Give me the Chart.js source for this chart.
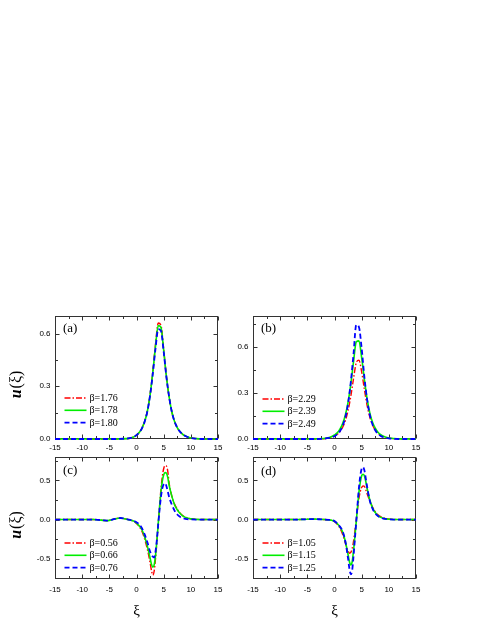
<!DOCTYPE html>
<html>
<head>
<meta charset="utf-8">
<script src="https://cdn.jsdelivr.net/npm/chart.js@4.4.0/dist/chart.umd.min.js"></script>
<style>
  body { margin: 0; background: #fff; }
  #wrap { position: relative; width: 491px; height: 635px; }
  canvas { position: absolute; }
</style>
</head>
<body>
<div id="wrap">
  <canvas id="chart-a" width="232" height="170" style="left:0;top:295px"></canvas>
  <canvas id="chart-b" width="259" height="170" style="left:232px;top:295px"></canvas>
  <canvas id="chart-c" width="232" height="195" style="left:0;top:440px"></canvas>
  <canvas id="chart-d" width="259" height="195" style="left:232px;top:440px"></canvas>
</div>
<script>
// x grids
const xsAB = [-15, -12, -9, -6, -4, -2, -1, -0.5, 0, 0.5, 1, 1.5, 2, 2.5, 3, 3.5, 4, 4.5, 5, 5.5, 6, 6.5, 7, 7.5, 8, 8.5, 9, 10, 11, 12, 15];
const xsCD = [-15, -12, -10, -8, -7, -6, -5.5, -5, -4, -3, -2, -1, -0.5, 0, 0.5, 1, 1.5, 2, 2.5, 2.75, 3, 3.25, 3.5, 3.75, 4, 4.25, 4.5, 4.75, 5, 5.25, 5.5, 5.75, 6, 6.5, 7, 7.5, 8, 8.5, 9, 10, 11, 12, 13, 15];

// (a)
const labelsA = ['β=1.76', 'β=1.78', 'β=1.80'];
const uA176 = [0, 0, 0, 0, 0, 0.002, 0.006, 0.012, 0.022, 0.037, 0.062, 0.100, 0.160, 0.253, 0.384, 0.540, 0.660, 0.648, 0.512, 0.358, 0.240, 0.155, 0.100, 0.065, 0.042, 0.027, 0.017, 0.006, 0.002, 0, 0];
const uA178 = [0, 0, 0, 0, 0, 0.002, 0.006, 0.012, 0.022, 0.037, 0.061, 0.099, 0.158, 0.250, 0.378, 0.528, 0.645, 0.635, 0.505, 0.356, 0.240, 0.155, 0.100, 0.065, 0.042, 0.027, 0.017, 0.006, 0.002, 0, 0];
const uA180 = [0, 0, 0, 0, 0, 0.002, 0.006, 0.012, 0.022, 0.037, 0.061, 0.099, 0.157, 0.248, 0.372, 0.515, 0.625, 0.615, 0.498, 0.354, 0.240, 0.155, 0.100, 0.065, 0.042, 0.027, 0.017, 0.006, 0.002, 0, 0];

// (b)
const labelsB = ['β=2.29', 'β=2.39', 'β=2.49'];
const uB229 = [0, 0, 0, 0, 0, 0.002, 0.008, 0.013, 0.020, 0.031, 0.049, 0.077, 0.120, 0.185, 0.278, 0.392, 0.495, 0.513, 0.437, 0.323, 0.219, 0.142, 0.092, 0.059, 0.037, 0.024, 0.015, 0.006, 0.002, 0, 0];
const uB239 = [0, 0, 0, 0, 0, 0.003, 0.010, 0.016, 0.026, 0.040, 0.064, 0.100, 0.156, 0.240, 0.358, 0.502, 0.632, 0.638, 0.529, 0.387, 0.261, 0.170, 0.109, 0.070, 0.044, 0.028, 0.018, 0.007, 0.003, 0.001, 0];
const uB249 = [0, 0, 0, 0, 0, 0.002, 0.007, 0.011, 0.018, 0.031, 0.051, 0.085, 0.141, 0.231, 0.370, 0.551, 0.742, 0.728, 0.589, 0.403, 0.256, 0.156, 0.094, 0.057, 0.034, 0.020, 0.012, 0.004, 0.001, 0, 0];

// (c)
const labelsC = ['β=0.56', 'β=0.66', 'β=0.76'];
const uC056 = [0, 0, 0, 0, -0.004, -0.011, -0.013, -0.010, 0.008, 0.020,
  0.008, -0.010, -0.020, -0.050, -0.090, -0.150, -0.250, -0.380, -0.550, -0.650,
  -0.710, -0.660, -0.500, -0.290, -0.050, 0.180, 0.390, 0.550, 0.650, 0.690,
  0.685, 0.620, 0.470, 0.300, 0.200, 0.135, 0.085, 0.050, 0.030, 0.010,
  0.003, 0, 0, 0];
const uC066 = [0, 0, 0, 0, -0.004, -0.011, -0.013, -0.010, 0.008, 0.020,
  0.008, -0.010, -0.020, -0.045, -0.080, -0.130, -0.220, -0.340, -0.490, -0.570,
  -0.610, -0.580, -0.460, -0.270, -0.050, 0.160, 0.350, 0.490, 0.570, 0.600,
  0.595, 0.540, 0.440, 0.300, 0.190, 0.125, 0.080, 0.047, 0.028, 0.009,
  0.003, 0, 0, 0];
const uC076 = [0, 0, 0, 0, -0.004, -0.011, -0.013, -0.010, 0.008, 0.020,
  0.008, -0.008, -0.015, -0.035, -0.060, -0.110, -0.190, -0.290, -0.410, -0.450,
  -0.475, -0.485, -0.410, -0.260, -0.060, 0.130, 0.290, 0.400, 0.450, 0.465,
  0.430, 0.360, 0.290, 0.190, 0.115, 0.065, 0.035, 0.018, 0.009, 0.002,
  0, 0, 0, 0];

// (d)
const labelsD = ['β=1.05', 'β=1.15', 'β=1.25'];
const uD105 = [0, 0, 0, 0, 0, 0.002, 0.003, 0.004, 0.005, 0.004,
  0.001, -0.005, -0.012, -0.028, -0.060, -0.110, -0.190, -0.300, -0.400, -0.430,
  -0.420, -0.370, -0.280, -0.150, -0.010, 0.140, 0.270, 0.360, 0.410, 0.430,
  0.425, 0.380, 0.330, 0.240, 0.160, 0.100, 0.062, 0.037, 0.022, 0.007,
  0.002, 0, 0, 0];
const uD115 = [0, 0, 0, 0, 0, 0.002, 0.003, 0.004, 0.005, 0.004,
  0.001, -0.004, -0.010, -0.022, -0.050, -0.095, -0.160, -0.280, -0.450, -0.540,
  -0.580, -0.540, -0.400, -0.220, -0.030, 0.170, 0.350, 0.480, 0.560, 0.580,
  0.560, 0.490, 0.400, 0.250, 0.150, 0.090, 0.050, 0.028, 0.015, 0.004,
  0.001, 0, 0, 0];
const uD125 = [0, 0, 0, 0, 0, 0.002, 0.003, 0.004, 0.005, 0.004,
  0.001, -0.003, -0.008, -0.020, -0.050, -0.090, -0.150, -0.280, -0.500, -0.630,
  -0.700, -0.650, -0.470, -0.250, -0.030, 0.200, 0.410, 0.560, 0.650, 0.670,
  0.630, 0.530, 0.420, 0.240, 0.140, 0.080, 0.045, 0.025, 0.013, 0.003,
  0, 0, 0, 0];

// ticks
const xTicks = [-15, -10, -5, 0, 5, 10, 15];
const xMinor = [-12.5, -7.5, -2.5, 2.5, 7.5, 12.5];
const yTicksAB = [0, 0.3, 0.6];
const yMinorAB = [0.15, 0.45, 0.75];
const yTicksCD = [-0.5, 0, 0.5];
const yMinorCD = [-0.75, -0.25, 0.25, 0.75];

const SANS = '"Liberation Sans", Arial, sans-serif';
const SERIF = '"Liberation Serif", "Times New Roman", serif';

const lineStyles = [
  { borderColor: '#ff0000', borderWidth: 1.4, borderDash: [6, 2, 1.5, 2], order: 2 },
  { borderColor: '#00ee00', borderWidth: 1.6, borderDash: [], order: 1 },
  { borderColor: '#0000ff', borderWidth: 1.8, borderDash: [5, 3], order: 0 },
];

const panelPlugin = {
  id: 'panel',
  beforeDatasetsDraw(chart, args, o) {
    const { ctx, chartArea: a, scales: { x, y } } = chart;
    const L = Math.round(a.left) + 0.5, R = Math.round(a.right) - 0.5;
    const T = Math.round(a.top) + 0.5, B = Math.round(a.bottom) - 0.5;
    ctx.save();
    ctx.strokeStyle = '#333';
    ctx.lineWidth = 1;
    ctx.strokeRect(L, T, R - L, B - T);
    ctx.beginPath();
    const xt = (vals, len) => vals.forEach(v => {
      const px = Math.round(x.getPixelForValue(v)) + 0.5;
      ctx.moveTo(px, B); ctx.lineTo(px, B - len);
      ctx.moveTo(px, T); ctx.lineTo(px, T + len);
    });
    const yt = (vals, len) => vals.forEach(v => {
      if (v < y.min || v > y.max) return;
      const py = Math.round(y.getPixelForValue(v)) + 0.5;
      ctx.moveTo(L, py); ctx.lineTo(L + len, py);
      ctx.moveTo(R, py); ctx.lineTo(R - len, py);
    });
    xt(xTicks, 4); xt(xMinor, 2.5);
    yt(o.yMajor, 4); yt(o.yMinor, 2.5);
    ctx.stroke();
    ctx.restore();
  },
  afterDatasetsDraw(chart, args, o) {
    const { ctx, chartArea: a } = chart;
    ctx.save();
    ctx.fillStyle = '#000';
    ctx.textBaseline = 'middle';
    // panel tag
    ctx.font = '13px ' + SERIF;
    ctx.fillText(o.tag, a.left + 8, a.top + o.tagTop);
    // legend inside plot
    ctx.font = '10px ' + SERIF;
    chart.data.datasets.forEach((ds, i) => {
      const yy = a.top + o.legendTop + i * 12.3;
      ctx.save();
      ctx.strokeStyle = ds.borderColor;
      ctx.lineWidth = ds.borderWidth;
      ctx.setLineDash(ds.borderDash);
      ctx.beginPath();
      ctx.moveTo(a.left + 9.5, yy);
      ctx.lineTo(a.left + 31.5, yy);
      ctx.stroke();
      ctx.restore();
      ctx.fillText(ds.label, a.left + 34.5, yy + 0.5);
    });
    // axis titles
    if (o.yTitle) {
      ctx.save();
      ctx.translate(16.5, (a.top + a.bottom) / 2 + 7.5);
      ctx.rotate(-Math.PI / 2);
      ctx.font = 'italic bold 16px ' + SERIF;
      const w1 = ctx.measureText('u').width;
      ctx.font = '16px ' + SERIF;
      const w2 = ctx.measureText('(ξ)').width;
      const x0 = -(w1 + w2) / 2;
      ctx.font = 'italic bold 16px ' + SERIF;
      ctx.fillText('u', x0, 0);
      ctx.font = '16px ' + SERIF;
      ctx.fillText('(ξ)', x0 + w1 + 1, 0);
      ctx.restore();
    }
    if (o.xTitle) {
      ctx.font = '15px ' + SERIF;
      ctx.textAlign = 'center';
      ctx.fillText('ξ', (a.left + a.right) / 2, a.bottom + 32);
    }
    ctx.restore();
  }
};

function panel(id, xs, series, labels, cfg) {
  new Chart(document.getElementById(id), {
    type: 'line',
    data: {
      datasets: series.map((ys, i) => ({
        label: labels[i],
        data: xs.map((x, j) => ({ x: x, y: ys[j] })),
        ...lineStyles[i],
        pointRadius: 0,
        cubicInterpolationMode: 'monotone',
        clip: false,
      }))
    },
    options: {
      responsive: false,
      animation: false,
      events: [],
      layout: { padding: cfg.pad },
      plugins: {
        legend: { display: false },
        tooltip: { enabled: false },
        panel: cfg.panel,
      },
      scales: {
        x: {
          type: 'linear', min: -15, max: 15,
          grid: { display: false, drawTicks: false },
          border: { display: false },
          afterBuildTicks: s => { s.ticks = xTicks.map(v => ({ value: v })); },
          afterFit: s => { s.height = cfg.xh; },
          ticks: { padding: cfg.xpad, maxRotation: 0, autoSkip: false, color: '#000',
                   font: { family: SANS, size: 8 }, callback: v => String(v) }
        },
        y: {
          type: 'linear', min: cfg.ymin, max: cfg.ymax,
          grid: { display: false, drawTicks: false },
          border: { display: false },
          afterBuildTicks: s => { s.ticks = cfg.panel.yMajor.map(v => ({ value: v })); },
          afterFit: s => { s.width = cfg.yw; },
          ticks: { padding: 4.5, color: '#000', font: { family: SANS, size: 8 },
                   callback: v => v.toFixed(1) }
        }
      }
    },
    plugins: [panelPlugin]
  });
}

panel('chart-a', xsAB, [uA176, uA178, uA180], labelsA, {
  pad: { left: 0, right: 14, top: 21, bottom: 0 }, xh: 26, yw: 55, xpad: 4,
  ymin: 0, ymax: 0.7,
  panel: { tag: '(a)', tagTop: 13, legendTop: 82, yMajor: yTicksAB, yMinor: yMinorAB, yTitle: true, xTitle: false }
});
panel('chart-b', xsAB, [uB229, uB239, uB249], labelsB, {
  pad: { left: 0, right: 75, top: 21, bottom: 0 }, xh: 26, yw: 21, xpad: 4,
  ymin: 0, ymax: 0.8,
  panel: { tag: '(b)', tagTop: 13, legendTop: 83, yMajor: yTicksAB, yMinor: yMinorAB, yTitle: false, xTitle: false }
});
panel('chart-c', xsCD, [uC056, uC066, uC076], labelsC, {
  pad: { left: 0, right: 14, top: 17, bottom: 0 }, xh: 56, yw: 55, xpad: 6,
  ymin: -0.76, ymax: 0.8,
  panel: { tag: '(c)', tagTop: 14, legendTop: 86, yMajor: yTicksCD, yMinor: yMinorCD, yTitle: true, xTitle: true }
});
panel('chart-d', xsCD, [uD105, uD115, uD125], labelsD, {
  pad: { left: 0, right: 75, top: 17, bottom: 0 }, xh: 56, yw: 21, xpad: 6,
  ymin: -0.76, ymax: 0.8,
  panel: { tag: '(d)', tagTop: 15, legendTop: 86, yMajor: yTicksCD, yMinor: yMinorCD, yTitle: false, xTitle: true }
});
</script>
</body>
</html>
